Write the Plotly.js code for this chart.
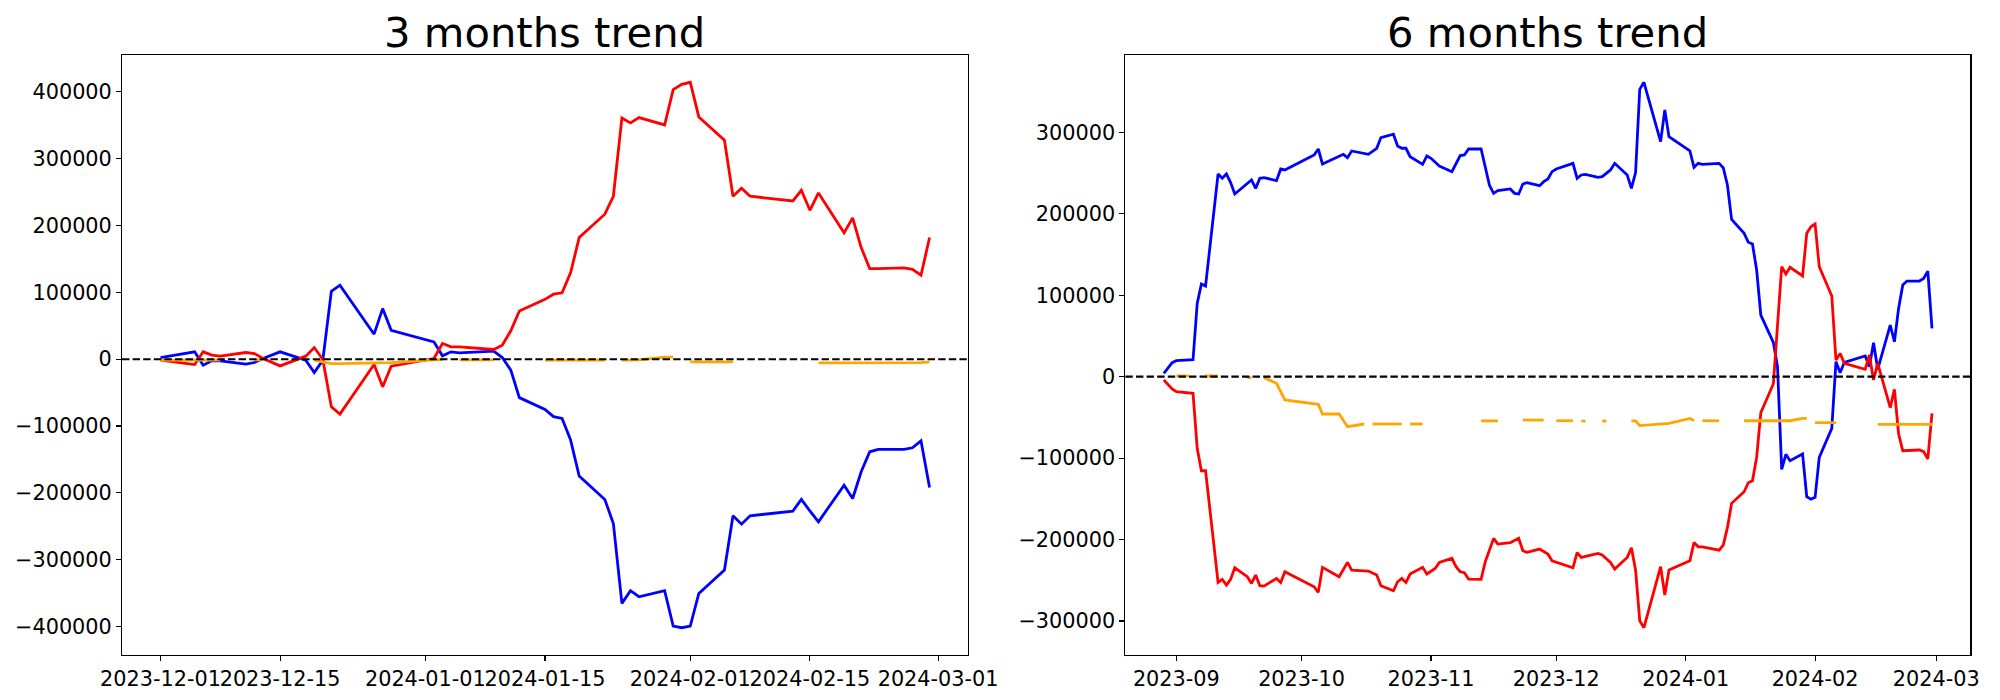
<!DOCTYPE html>
<html>
<head>
<meta charset="utf-8">
<script src="https://cdn.plot.ly/plotly-3.0.1.min.js"></script>
<style>html,body{margin:0;padding:0;background:#fff;}#chart{width:2000px;height:700px;}</style>
</head>
<body>
<div id="chart"></div>
<script>
// ---------- 3 months trend ----------
const dates3m = ['2023-12-01','2023-12-05','2023-12-06','2023-12-07','2023-12-08','2023-12-11','2023-12-12','2023-12-13','2023-12-15','2023-12-18','2023-12-19','2023-12-20','2023-12-21','2023-12-22','2023-12-26','2023-12-27','2023-12-28',
'2024-01-02','2024-01-03','2024-01-04','2024-01-05','2024-01-08','2024-01-09','2024-01-10','2024-01-11','2024-01-12','2024-01-15','2024-01-16','2024-01-17','2024-01-18','2024-01-19','2024-01-22','2024-01-23','2024-01-24','2024-01-25','2024-01-26','2024-01-29','2024-01-30','2024-01-31',
'2024-02-01','2024-02-02','2024-02-05','2024-02-06','2024-02-07','2024-02-08','2024-02-13','2024-02-14','2024-02-15','2024-02-16','2024-02-19','2024-02-20','2024-02-21','2024-02-22','2024-02-23','2024-02-26','2024-02-27','2024-02-28','2024-02-29'];
const blue3m = [2500,11000,-9000,-2500,-2500,-7500,-5000,1000,11000,-1500,-20000,-1500,101600,110600,37400,75700,43300,
25900,5000,11000,9500,11500,12000,2500,-16400,-57500,-75200,-86000,-88700,-121000,-174900,-209800,-245700,-365200,-346300,-355300,-346300,-399100,-401600,
-399100,-350300,-315400,-234200,-246700,-234200,-227200,-209800,-227000,-243200,-188400,-208300,-168400,-138500,-135000,-135000,-132500,-122100,-191800];
const red3m = [-1500,-8000,11000,6000,4500,10000,8500,1000,-10000,4500,17400,-500,-71300,-82200,-8000,-41400,-10500,
1000,23400,18400,18400,15500,14500,21000,42400,72000,89500,97200,99200,129600,181900,216800,243700,360800,353300,361300,350300,403100,411100,
414100,362300,327400,243700,255600,243700,236700,252600,222700,248600,188900,211300,166900,135500,135500,136500,134500,125600,181900];
const orange3m = [-1500,-1500,-1500,-1500,-1500,null,-1000,-1000,null,null,-1500,-4500,-6500,-6500,-6000,-5500,-5000,
-1000,-500,null,-1000,-1000,-1000,null,null,null,-1500,-1500,-1500,-1500,-1500,-1500,null,-1500,-1500,-1000,3000,3000,null,
-4000,-4000,-4000,-4000,null,null,null,null,null,-5500,-5500,-5500,-5500,-5500,-5500,-5500,-5500,-5000,-4000];
const xTicks3m = ['2023-12-01','2023-12-15','2024-01-01','2024-01-15','2024-02-01','2024-02-15','2024-03-01'];
const yTicks3m = [-400000,-300000,-200000,-100000,0,100000,200000,300000,400000];

// ---------- 6 months trend ----------
const dates6m = ['2023-08-29','2023-08-30','2023-08-31','2023-09-01','2023-09-05','2023-09-06','2023-09-07','2023-09-08','2023-09-11','2023-09-12','2023-09-13','2023-09-14','2023-09-15','2023-09-18','2023-09-19','2023-09-20','2023-09-21','2023-09-22','2023-09-25','2023-09-26','2023-09-27',
'2023-10-04','2023-10-05','2023-10-06','2023-10-10','2023-10-11','2023-10-12','2023-10-13','2023-10-17','2023-10-19','2023-10-20','2023-10-23','2023-10-24','2023-10-25','2023-10-26','2023-10-27','2023-10-30','2023-10-31',
'2023-11-01','2023-11-02','2023-11-03','2023-11-06','2023-11-07','2023-11-08','2023-11-09','2023-11-10','2023-11-13','2023-11-14','2023-11-15','2023-11-16','2023-11-17','2023-11-20','2023-11-21','2023-11-22','2023-11-23','2023-11-24','2023-11-27','2023-11-28','2023-11-29','2023-11-30',
'2023-12-01','2023-12-05','2023-12-06','2023-12-07','2023-12-08','2023-12-11','2023-12-12','2023-12-13','2023-12-14','2023-12-15','2023-12-18','2023-12-19','2023-12-20','2023-12-21','2023-12-22','2023-12-26','2023-12-27','2023-12-28',
'2024-01-02','2024-01-03','2024-01-04','2024-01-05','2024-01-08','2024-01-09','2024-01-10','2024-01-11','2024-01-12','2024-01-15','2024-01-16','2024-01-17','2024-01-18','2024-01-19','2024-01-22','2024-01-23','2024-01-24','2024-01-25','2024-01-26','2024-01-29','2024-01-30','2024-01-31',
'2024-02-01','2024-02-02','2024-02-05','2024-02-06','2024-02-07','2024-02-08','2024-02-13','2024-02-14','2024-02-15','2024-02-16','2024-02-19','2024-02-20','2024-02-21','2024-02-22','2024-02-23','2024-02-26','2024-02-27','2024-02-28','2024-02-29'];
const blue6m = [4100,10200,17200,19600,20800,90000,113800,111300,248800,243500,248800,238200,224300,null,241500,231200,243500,244300,240700,255000,253800,
272200,279500,261100,null,273000,268900,277100,273000,280400,293500,297600,283200,280400,280400,270100,260700,271000,
268100,null,258700,251700,null,271400,272200,279500,279500,null,234900,225100,228400,230500,225100,224300,236500,238200,234500,239400,242700,251700,
255000,261900,243500,247600,248400,244700,245600,249700,253800,261900,247600,231200,250500,352800,361400,288500,327400,294700,
277100,257000,261900,260700,261900,261900,256600,235300,193100,176000,165000,162900,131000,75700,42100,12300,-113800,-95400,-103200,-95000,-147400,-150300,
-148200,-99100,-63500,18400,4900,17600,25400,12300,41700,9000,63400,42900,83800,112500,117400,117400,120600,129600,59300];
const red6m = [-4100,-9500,-15100,-18400,-20500,-88000,-115500,-115500,-252600,-248900,-255900,-248900,-234600,-245600,-253800,-243500,-256700,-257100,-247700,-252600,-239500,
-257900,-264800,-234100,-245600,null,-228000,-237400,-238700,-243600,-256700,-262800,-251800,-247700,-252600,-242300,-234100,-242300,
null,-235500,-228100,-223000,-233300,-239500,-240700,-248500,-248900,-227200,-212100,-198500,-205500,-203800,null,-198500,-213700,-215700,-211600,null,-217800,-226000,
null,-234600,-216100,-221900,null,-217000,-219000,null,-228000,-236200,-221900,-210000,-237400,-299700,-308200,-233300,-268100,-237400,
-226000,-203500,-208800,-209000,-211500,-213000,-206800,-185400,-155500,-141300,-130200,-127700,-99100,-44200,-9000,null,135000,126000,134300,123600,176000,184100,
187400,135000,99000,20400,28600,16400,9000,26600,-4100,16400,-38100,-15600,-70000,-90900,null,-90000,-92000,-101000,-45000];
const orangeDates6m = ['2023-09-01','2023-09-04','2023-09-06','2023-09-08','2023-09-11','2023-09-13','2023-09-18','2023-09-19','2023-09-20',
'2023-09-22','2023-09-25','2023-09-27','2023-10-05','2023-10-06','2023-10-10','2023-10-12','2023-10-16','2023-10-17',
'2023-10-18','2023-10-19','2023-10-20','2023-10-23','2023-10-24','2023-10-25','2023-10-26','2023-10-27','2023-10-30','2023-10-31',
'2023-11-13','2023-11-14','2023-11-15','2023-11-16','2023-11-17','2023-11-20','2023-11-23','2023-11-24','2023-11-27','2023-11-28','2023-11-29',
'2023-12-01','2023-12-04','2023-12-05','2023-12-06','2023-12-07','2023-12-08','2023-12-11','2023-12-12','2023-12-13','2023-12-14',
'2023-12-19','2023-12-20','2023-12-21','2023-12-28','2024-01-02','2024-01-03','2024-01-04','2024-01-05','2024-01-08','2024-01-09','2024-01-10',
'2024-01-15','2024-01-16','2024-01-17','2024-01-18','2024-01-19','2024-01-22','2024-01-23','2024-01-24','2024-01-25','2024-01-26','2024-01-29','2024-01-30','2024-01-31',
'2024-02-01','2024-02-02','2024-02-05','2024-02-06','2024-02-07',
'2024-02-16','2024-02-19','2024-02-20','2024-02-21','2024-02-22','2024-02-23','2024-02-26','2024-02-27','2024-02-28','2024-02-29'];
const orange6m = [1000,1000,null,800,800,null,-1200,-1200,null,
-1200,-8200,-28600,-34000,-45800,-45800,-61400,-58100,null,
-58100,-58100,-58100,-58100,-58100,-58100,null,-58100,-58100,null,
-54300,-54300,-54300,-54300,-54300,null,-53300,-53300,-53300,-53300,null,
-54100,-54100,-54100,null,-54500,-54500,null,-54500,-54500,null,
-54300,-54300,-60100,-57300,-51200,-54100,null,-54100,-54100,-54100,null,
-54100,-54100,-54100,-54100,-54100,-54100,-54100,-54100,-54100,-54100,-51200,-51200,null,
-56500,-56500,-56500,-56500,null,
-58600,-58600,-58600,-58600,-58600,-58600,-58600,-58600,-58600,-58600];
const xTicks6m = ['2023-09-01','2023-10-01','2023-11-01','2023-12-01','2024-01-01','2024-02-01','2024-03-01'];
const xTickText6m = ['2023-09','2023-10','2023-11','2023-12','2024-01','2024-02','2024-03'];
const yTicks6m = [-300000,-200000,-100000,0,100000,200000,300000];

const titles = ['3 months trend','6 months trend'];

function fmt(v){ return v < 0 ? '\u2212' + Math.abs(v) : String(v); }

const FONT = 'DejaVu Sans, Liberation Sans, sans-serif';
const tickFont = {family: FONT, size: 20.8, color: '#000'};
const LW = 2.8;

function mk(x, y, color, xa, ya, gaps){
  return {x: x, y: y, type: 'scatter', mode: 'lines', xaxis: xa, yaxis: ya,
    connectgaps: gaps, line: {color: color, width: LW}, hoverinfo: 'skip'};
}

const traces = [
  mk(dates3m, blue3m, '#0000ff', 'x', 'y', true),
  mk(dates3m, red3m, '#ff0000', 'x', 'y', true),
  mk(dates3m, orange3m, '#ffa500', 'x', 'y', false),
  mk(dates6m, blue6m, '#0000ff', 'x2', 'y2', true),
  mk(dates6m, red6m, '#ff0000', 'x2', 'y2', true),
  mk(orangeDates6m, orange6m, '#ffa500', 'x2', 'y2', false)
];

const axCommon = {showgrid: false, zeroline: false, showline: true, linecolor: '#000', linewidth: 1.1,
  mirror: true, ticks: 'outside', ticklen: 4.9, tickwidth: 1.1, tickcolor: '#000', tickfont: tickFont, tickangle: 0};

const d1 = [0.061, 0.484], d2 = [0.5627, 0.9852], yd = [0.0643, 0.9214];

const layout = {
  width: 2000, height: 700, margin: {l: 0, r: 0, t: 0, b: 0},
  paper_bgcolor: '#fff', plot_bgcolor: '#fff', showlegend: false,
  xaxis: Object.assign({}, axCommon, {domain: d1, anchor: 'y', type: 'date',
    range: ['2023-11-26 12:00', '2024-03-04 12:00'], tickmode: 'array', tickvals: xTicks3m, ticktext: xTicks3m}),
  yaxis: Object.assign({}, axCommon, {domain: yd, anchor: 'x', range: [-442400, 454900],
    tickmode: 'array', tickvals: yTicks3m, ticktext: yTicks3m.map(fmt)}),
  xaxis2: Object.assign({}, axCommon, {domain: d2, anchor: 'y2', type: 'date',
    range: ['2023-08-19 19:12', '2024-03-09 04:48'], tickmode: 'array', tickvals: xTicks6m, ticktext: xTickText6m}),
  yaxis2: Object.assign({}, axCommon, {domain: yd, anchor: 'x2', range: [-341680, 394880],
    tickmode: 'array', tickvals: yTicks6m, ticktext: yTicks6m.map(fmt)}),
  shapes: [
    {type: 'line', xref: 'x domain', yref: 'y', x0: 0, x1: 1, y0: 0, y1: 0, layer: 'above',
     line: {color: '#000', width: 2.1, dash: '7.4px,3.2px'}},
    {type: 'line', xref: 'x2 domain', yref: 'y2', x0: 0, x1: 1, y0: 0, y1: 0, layer: 'above',
     line: {color: '#000', width: 2.1, dash: '7.4px,3.2px'}}
  ],
  annotations: [
    {text: titles[0], xref: 'paper', yref: 'paper', x: (d1[0] + d1[1]) / 2, y: 0.9539, xanchor: 'center', yanchor: 'middle',
     showarrow: false, font: {family: FONT, size: 41.7, color: '#000'}},
    {text: titles[1], xref: 'paper', yref: 'paper', x: (d2[0] + d2[1]) / 2, y: 0.9539, xanchor: 'center', yanchor: 'middle',
     showarrow: false, font: {family: FONT, size: 41.7, color: '#000'}}
  ]
};

Plotly.newPlot('chart', traces, layout, {displayModeBar: false, staticPlot: true});
</script>
</body>
</html>
